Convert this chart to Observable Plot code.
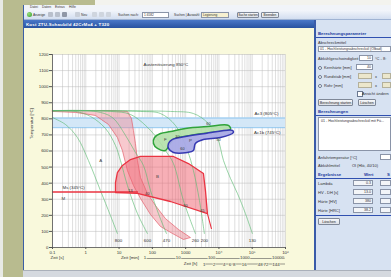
<!DOCTYPE html>
<html><head><meta charset="utf-8">
<script src="https://cdn.jsdelivr.net/npm/d3@7"></script>
<script src="https://cdn.jsdelivr.net/npm/@observablehq/plot@0.6"></script>
<style>
html,body{margin:0;padding:0;}
body{width:391px;height:277px;overflow:hidden;position:relative;background:#f3f3ee;font-family:"Liberation Sans",Arial,sans-serif;}
.a{position:absolute;}
.t{position:absolute;font-size:4px;line-height:5px;white-space:nowrap;color:#333;}
.h{position:absolute;font-size:4.3px;line-height:5px;white-space:nowrap;color:#1d3c9c;font-weight:bold;}
.box{position:absolute;background:#fff;border:0.5px solid #8a94a8;box-sizing:border-box;font-size:3.6px;line-height:5px;padding-left:1px;overflow:hidden;white-space:nowrap;color:#333;}
.gbox{position:absolute;background:#ece7cc;border:0.5px solid #b4b09a;box-sizing:border-box;}
.btn{position:absolute;background:linear-gradient(#f7f8fa,#dce0e7);border:0.5px solid #7f8898;box-sizing:border-box;border-radius:1px;font-size:3.6px;text-align:center;line-height:6px;color:#222;white-space:nowrap;overflow:hidden;}
.rad{position:absolute;width:4px;height:4px;border-radius:50%;border:0.5px solid #6a7890;background:#fff;box-sizing:border-box;}
.ico{position:absolute;width:5px;height:5px;background:#b9c0cc;border-radius:1px;}
</style>
</head><body>
<div class="a" style="left:0;top:0;width:3px;height:277px;background:#e8eae6"></div>
<div class="a" style="left:3px;top:0;width:20px;height:277px;background:#b8bb8f"></div>
<div class="a" style="left:3px;top:0;width:92px;height:5px;background:#b8bb8f"></div>

<div class="a" style="left:23px;top:5px;width:368px;height:272px;background:#dbe5f3"></div>
<!-- menu -->
<div class="a" style="left:23px;top:5px;width:368px;height:5px;background:#f1f4f9"></div>
<div class="t" style="left:30px;top:5px;font-size:3.4px">Datei</div>
<div class="t" style="left:42px;top:5px;font-size:3.4px">Daten</div>
<div class="t" style="left:55px;top:5px;font-size:3.4px">Extras</div>
<div class="t" style="left:69px;top:5px;font-size:3.4px">Hilfe</div>
<!-- toolbar -->
<div class="a" style="left:23px;top:10px;width:368px;height:10px;background:linear-gradient(#f3f6fb,#d3def0);border-bottom:0.5px solid #9fb3d3;box-sizing:border-box"></div>
<div class="a" style="left:27px;top:12px;width:5px;height:5px;border-radius:50%;background:radial-gradient(circle at 35% 35%,#9be07a,#2e9a2a)"></div>
<div class="t" style="left:33px;top:12.5px;font-size:3.4px">Anzeige</div>
<div class="ico" style="left:48px;top:12px"></div>
<div class="ico" style="left:55px;top:12px"></div>
<div class="ico" style="left:62px;top:12px;background:#8f97a6"></div>
<div class="ico" style="left:75px;top:12px;background:#c9cfd9"></div>
<div class="t" style="left:81px;top:12.5px;font-size:3.4px">Neu</div>
<div class="ico" style="left:92px;top:12px;background:#cfd5de"></div>
<div class="ico" style="left:99px;top:12px;background:#cfd5de"></div>
<div class="ico" style="left:106px;top:12px;background:#cfd5de"></div>
<div class="t" style="left:118px;top:12.5px;font-size:3.4px">Suchen nach:</div>
<div class="box" style="left:142px;top:11.5px;width:27px;height:6px;font-size:3.2px;line-height:5px">1.6582</div>
<div class="t" style="left:174px;top:12.5px;font-size:3.2px">Suchen | Auswahl:</div>
<div class="box" style="left:201px;top:11.5px;width:28px;height:6px;background:#f6f0d0;font-size:3.2px;line-height:5px">Legierung</div>
<div class="btn" style="left:237px;top:11.5px;width:22px;height:6.5px;font-size:3.2px;line-height:5.5px">Suche starten</div>
<div class="btn" style="left:261px;top:11.5px;width:18px;height:6.5px;font-size:3.2px;line-height:5.5px">Beenden</div>
<!-- title bar -->
<div class="a" style="left:23px;top:20px;width:291px;height:8px;background:linear-gradient(#4a78c8,#2852a0)"></div>
<div class="t" style="left:26px;top:21.5px;font-size:4.4px;color:#fff;font-weight:bold;letter-spacing:0.2px">Kost ZTU-Schaubild 42CrMo4 + T320</div>
<!-- chart panel -->
<div class="a" id="panel" style="left:23px;top:28px;width:291px;height:242px;background:#f9f9dc"></div>
<div class="a" style="left:23px;top:5px;width:1px;height:272px;background:#3b5ea5"></div>
<!-- separator + right panel -->
<div class="a" style="left:313.5px;top:20px;width:2px;height:250px;background:#3a5ba8"></div>
<div class="a" style="left:316px;top:20px;width:75px;height:250px;background:#d7e2f2"></div>
<div class="h" style="left:318px;top:31px">Berechnungsparameter</div>
<div class="a" style="left:316px;top:37px;width:75px;height:0.6px;background:#3050b0"></div>
<div class="t" style="left:318px;top:40px">Abschreckmittel</div>
<div class="box" style="left:318px;top:46px;width:73px;height:6px">01 - Hochleistungsabschrecköl (Ölbad)</div>
<div class="t" style="left:318px;top:56px">Abkühlgeschwindigkeit</div>
<div class="box" style="left:359px;top:55px;width:14px;height:6px;text-align:right;padding-right:1px">10</div>
<div class="t" style="left:375px;top:56px">°C - 8:</div>
<div class="rad" style="left:318px;top:65.5px;background:radial-gradient(circle,#3a9a3a 35%,#fff 45%)"></div>
<div class="t" style="left:324px;top:65px">Kernhärte [mm]</div>
<div class="box" style="left:356px;top:64px;width:17px;height:6px;text-align:right;padding-right:1px">40</div>
<div class="rad" style="left:318px;top:74.5px"></div>
<div class="t" style="left:324px;top:74px">Rundstab [mm]</div>
<div class="gbox" style="left:358px;top:73px;width:14px;height:6px"></div>
<div class="t" style="left:375px;top:74px">x</div>
<div class="gbox" style="left:382px;top:73px;width:9px;height:6px"></div>
<div class="rad" style="left:318px;top:83.5px"></div>
<div class="t" style="left:324px;top:83px">Rohr [mm]</div>
<div class="gbox" style="left:358px;top:82px;width:14px;height:6px"></div>
<div class="t" style="left:375px;top:83px">x</div>
<div class="gbox" style="left:382px;top:82px;width:9px;height:6px"></div>
<div class="a" style="left:357px;top:91px;width:3.5px;height:3.5px;background:#fff;border:0.5px solid #6a7890"></div>
<div class="t" style="left:362px;top:90.5px">Ansicht ändern</div>
<div class="btn" style="left:318px;top:99px;width:35px;height:7px">Berechnung starten</div>
<div class="btn" style="left:358px;top:99px;width:18px;height:7px">Löschen</div>
<div class="h" style="left:318px;top:109px">Berechnungen</div>
<div class="a" style="left:316px;top:115px;width:75px;height:0.6px;background:#3050b0"></div>
<div class="box" style="left:318px;top:117px;width:73px;height:34px;line-height:6px;padding-left:2px">01 - Hochleistungsabschrecköl mit Fü...</div>
<div class="t" style="left:318px;top:155px">Anfahrtemperatur [°C]</div>
<div class="box" style="left:380px;top:154px;width:11px;height:6px"></div>
<div class="t" style="left:318px;top:163px">Abkühlmittel</div>
<div class="t" style="left:352px;top:163px">Öl (Hlö, 40/10)</div>
<div class="h" style="left:318px;top:172px">Ergebnisse</div>
<div class="h" style="left:364px;top:172px">Wert</div>
<div class="h" style="left:387px;top:172px">S</div>
<div class="a" style="left:316px;top:178px;width:75px;height:0.6px;background:#3050b0"></div>
<div class="t" style="left:318px;top:181px">Lambda</div>
<div class="box" style="left:353px;top:180px;width:20px;height:6px;text-align:right;padding-right:1px;background:#f3f5f8">0.3</div>
<div class="box" style="left:380px;top:180px;width:11px;height:6px;background:#f3f5f8"></div>
<div class="t" style="left:318px;top:190px">HV - DH [s]</div>
<div class="box" style="left:353px;top:189px;width:20px;height:6px;text-align:right;padding-right:1px;background:#f3f5f8">13.0</div>
<div class="box" style="left:380px;top:189px;width:11px;height:6px;background:#f3f5f8"></div>
<div class="t" style="left:318px;top:199px">Härte [HV]</div>
<div class="box" style="left:353px;top:198px;width:20px;height:6px;text-align:right;padding-right:1px;background:#f3f5f8">380</div>
<div class="box" style="left:380px;top:198px;width:11px;height:6px;background:#f3f5f8"></div>
<div class="t" style="left:318px;top:207.5px">Härte [HRC]</div>
<div class="box" style="left:353px;top:207px;width:20px;height:6px;text-align:right;padding-right:1px;background:#f3f5f8">38.2</div>
<div class="box" style="left:380px;top:207px;width:11px;height:6px;background:#f3f5f8"></div>
<div class="a" style="left:316px;top:215px;width:75px;height:0.6px;background:#3050b0"></div>
<div class="btn" style="left:318px;top:218px;width:22px;height:7px">Löschen</div>
<!-- status bar -->
<div class="a" style="left:23px;top:270px;width:368px;height:7px;background:#d5d9df;border-top:0.6px solid #aab0ba;box-sizing:border-box"></div>

<script>
// ---------------- data ----------------
const yTicks = [0,100,200,300,400,500,600,700,800,900,1000,1100,1200];
const secTicks = [0.1,1,10,100,1000,1e4,1e5,1e6];
const secLabels = ["0.1","1","10","100","1000","10⁴","10⁵","10⁶"];
const minTicks = [1,10,100,1000,10000];
const hourTicks = [1,2,4,6,8,16,48,72,144];

const austenitizing = 850;
const ac3 = 805, ac1 = 745, ms = 345;

// cooling curves: time [s], temperature [°C]; hardness HV at curve end
const hvLabels = ["800","600","470","260","200","130"];
const cool800_t = [0.1,0.245,0.56,1.2,2.76,5.5,8.9];
const cool800_T = [808,765,684,541,354,199,87];
const cool600_t = [0.1,0.49,1.38,3.9,7.8,11,17.8,35.7,71];
const cool600_T = [850,846,815,740,634,541,386,211,87];
const cool470_t = [0.1,1.95,6.3,15.6,31,54,88,152,265];
const cool470_T = [850,846,808,697,591,510,354,211,87];
const cool260_t = [0.1,5.5,22,88,247,430,857,1960];
const cool260_T = [850,846,827,728,603,522,292,87];
const cool200_t = [0.1,44,175,494,1130,1710,2600,3650];
const cool200_T = [850,846,833,759,603,479,292,87];
const cool130_t = [0.1,350,1710,4500,8960,13700,22300,36000,62500,101000];
const cool130_T = [850,846,833,777,684,541,429,336,211,87];

// transformation regions (outline points)
const bandM_t = [0.1,5.5,17.8,23.6,27,31,35.7,44,71,124,247,608,1393,857,402,175,88,44,27,17.8,12.6,8.9,4.8,1.95,0.49,0.1];
const bandM_T = [852,852,846,802,728,647,541,435,336,261,180,112,62,50,87,131,205,305,386,479,603,684,765,821,840,846];
const bainite_t = [7.8,7.8,8.9,12.6,22,44,430,1213,3425,3935,4515,349,35.7];
const bainite_T = [342,404,466,510,547,566,566,522,460,354,211,286,336];
const bainiteTail_t = [4515,5950];
const bainiteTail_T = [211,118];
const ferrite_t = [19300,4515,986,350,175,116,108,142,247,305,430,1393,5560,22300];
const ferrite_T = [759,752,740,721,709,684,647,616,603,628,672,697,715,734];
const pearlite_t = [305,305,402,986,3935,25400,27200,11100,3425,1960,1710,1130,430];
const pearlite_T = [616,647,672,690,709,728,715,684,672,647,603,591,591];
const msLine_t = [0.1,35.7];

// labels
const phaseNames = ["A","F","P","B","M"];
const phase_t = [2.8,247,1393,142,0.21];
const phase_T = [541,672,665,441,305];
const pctNames = ["30","60","50","60","13","40","30","45"];
const pct_t = [566,800,9650,4840,22,71,986,3200];
const pct_T = [690,616,672,771,354,336,261,230];
const hvEnd_t = [9.6,71,265,1960,3650,101000];

// ---------------- build ----------------
const zip = (ts, Ts) => ts.map((t, i) => ({t, T: Ts[i]}));
const coolSets = [[cool800_t,cool800_T],[cool600_t,cool600_T],[cool470_t,cool470_T],[cool260_t,cool260_T],[cool200_t,cool200_T],[cool130_t,cool130_T]];
const coolRows = coolSets.flatMap(([ts,Ts], k) => zip(ts,Ts).map(p => ({...p, hv: hvLabels[k]})));
const bandM = zip(bandM_t, bandM_T);
const bainite = zip(bainite_t, bainite_T);
const ferrite = zip(ferrite_t, ferrite_T);
const pearlite = zip(pearlite_t, pearlite_T);
const tail = zip(bainiteTail_t, bainiteTail_T);
const msLine = msLine_t.map(t => ({t, T: ms}));
const phases = phaseNames.map((n,i) => ({n, t: phase_t[i], T: phase_T[i]}));
const pcts = pctNames.map((n,i) => ({n, t: pct_t[i], T: pct_T[i]}));
const hvs = hvLabels.map((n,i) => ({n, t: hvEnd_t[i]}));
const minSecs = minTicks.map(m => m * 60);
const hourSecs = hourTicks.map(h => h * 3600);
const xMin = secTicks[0], xMax = secTicks[secTicks.length - 1];
const panelBg = "#f9f9dc";
const fs = 4.4;

const chart = Plot.plot({
  width: 291, height: 242,
  marginLeft: 29, marginRight: 29, marginTop: 26, marginBottom: 23,
  style: {background: "transparent", fontFamily: "Liberation Sans, Arial, sans-serif", fontSize: fs + "px", color: "#333", overflow: "visible"},
  x: {type: "log", domain: [xMin, xMax]},
  y: {domain: [yTicks[0], yTicks[yTicks.length - 1]]},
  marks: [
    Plot.frame({fill: "white", stroke: null}),
    Plot.gridX({ticks: 40, stroke: "#b8b8b8", strokeOpacity: 0.75, strokeWidth: 0.6}),
    Plot.gridY({ticks: yTicks, stroke: "#b8b8b8", strokeOpacity: 0.8, strokeWidth: 0.6}),
    Plot.rect([{lo: ac1, hi: ac3}], {x1: () => xMin, x2: () => xMax, y1: "lo", y2: "hi", fill: "#d3e7f7"}),
    Plot.ruleY([ac3, ac1], {stroke: "#8ec6ef", strokeWidth: 1}),
    Plot.line(bandM, {x: "t", y: "T", curve: "linear-closed", fill: "#f08893", fillOpacity: 0.45, stroke: "#e4606d", strokeWidth: 0.7}),
    Plot.line(bainite, {x: "t", y: "T", curve: "linear-closed", fill: "#f0606e", fillOpacity: 0.5, stroke: "none"}),
    Plot.line(coolRows, {x: "t", y: "T", z: "hv", curve: "catmull-rom", stroke: "#5dbb72", strokeOpacity: 0.7, strokeWidth: 0.9}),
    Plot.line(bainite, {x: "t", y: "T", curve: "linear-closed", stroke: "#ea3442", strokeWidth: 1.3}),
    Plot.line(tail, {x: "t", y: "T", stroke: "#ea3442", strokeWidth: 1.1}),
    Plot.line(msLine, {x: "t", y: "T", stroke: "#ea3442", strokeWidth: 1.3}),
    Plot.line(ferrite, {x: "t", y: "T", curve: "catmull-rom-closed", fill: "#b3e0a8", fillOpacity: 0.9, stroke: "#2fa33a", strokeWidth: 1.5}),
    Plot.line(pearlite, {x: "t", y: "T", curve: "catmull-rom-closed", fill: "#a9aae6", fillOpacity: 0.95, stroke: "#3639b2", strokeWidth: 1.5}),
    Plot.ruleX([xMin], {stroke: "#555", strokeWidth: 0.8}),
    Plot.ruleY([0], {stroke: "#555", strokeWidth: 0.8}),
    Plot.axisY({ticks: yTicks, tickFormat: d => String(d), tickSize: 3, tickPadding: 1, label: null, stroke: "#555"}),
    Plot.axisX({ticks: secTicks, tickFormat: d => secLabels[secTicks.indexOf(d)], tickSize: 2, tickPadding: 1, label: null, stroke: "#555"}),
    Plot.text(["Temperatur [°C]"], {frameAnchor: "left", dx: -21, dy: -12, rotate: -90}),
    Plot.text(["Zeit [s]"], {frameAnchor: "bottom-left", dx: -2, dy: 11, textAnchor: "start"}),
    // minutes axis
    Plot.ruleY([0], {x1: () => minSecs[0], x2: () => xMax, dy: 11, stroke: "#555", strokeWidth: 0.6}),
    Plot.text(minTicks, {x: (d, i) => minSecs[i], frameAnchor: "bottom", dy: 11, text: d => String(d), stroke: panelBg, strokeWidth: 1.4, fill: "#333"}),
    Plot.text(["Zeit [min]"], {x: () => minSecs[0], frameAnchor: "bottom", dy: 11, dx: -6, textAnchor: "end"}),
    // hours axis
    Plot.ruleY([0], {x1: () => hourSecs[0], x2: () => xMax, dy: 16.5, stroke: "#555", strokeWidth: 0.6}),
    Plot.text(hourTicks, {x: (d, i) => hourSecs[i], frameAnchor: "bottom", dy: 18, text: d => String(d), stroke: panelBg, strokeWidth: 1.2, fill: "#333"}),
    Plot.text(["Zeit [h]"], {x: () => hourSecs[0], frameAnchor: "bottom", dy: 17.5, dx: -7, textAnchor: "end"}),
    // annotations
    Plot.text([`Austenitisierung ${austenitizing}°C`], {frameAnchor: "top-left", dx: 91, dy: 8, textAnchor: "start"}),
    Plot.text([`Ac3 (${ac3}°C)`], {y: () => ac3, frameAnchor: "right", dx: -7, dy: -4, textAnchor: "end"}),
    Plot.text([`Ac1b (${ac1}°C)`], {y: () => ac1, frameAnchor: "right", dx: -5, dy: 4.5, textAnchor: "end"}),
    Plot.text([`Ms (${ms}°C)`], {x: () => msLine_t[0], y: () => ms, dx: 10, dy: -4.5, textAnchor: "start"}),
    Plot.text(phases, {x: "t", y: "T", text: "n", fill: "#444"}),
    Plot.text(pcts, {x: "t", y: "T", text: "n", fill: "#333", fontSize: 3.8}),
    Plot.text(hvs, {x: "t", frameAnchor: "bottom", dy: -6, text: "n", fill: "#333"})
  ]
});
chart.style.position = "absolute";
chart.style.left = "0px";
chart.style.top = "0px";
document.getElementById("panel").appendChild(chart);
</script>
</body></html>
